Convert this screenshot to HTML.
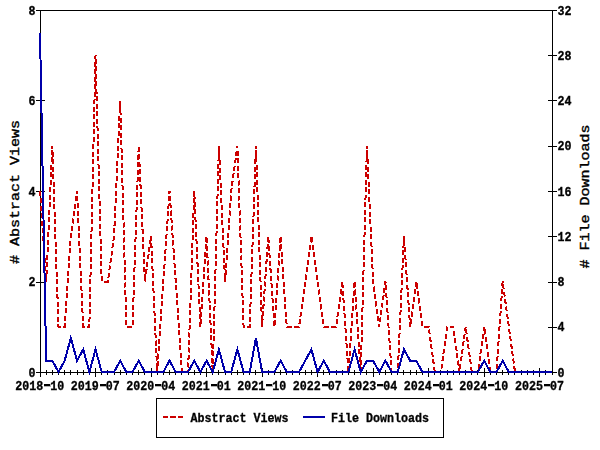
<!DOCTYPE html>
<html><head><meta charset="utf-8"><title>Chart</title>
<style>html,body{margin:0;padding:0;background:#fff;width:600px;height:450px;overflow:hidden;font-family:"Liberation Mono",monospace}</style>
</head><body>
<svg width="600" height="450" viewBox="0 0 600 450" style="position:absolute;left:0;top:0">
<rect x="0" y="0" width="600" height="450" fill="#fff"/>
<g shape-rendering="crispEdges" stroke="#000" stroke-width="1" fill="none">
<rect x="40.5" y="10.5" width="512" height="362"/>
<line x1="40.5" y1="368" x2="40.5" y2="377"/>
<line x1="46.5" y1="370" x2="46.5" y2="375"/>
<line x1="52.5" y1="370" x2="52.5" y2="375"/>
<line x1="58.5" y1="370" x2="58.5" y2="375"/>
<line x1="64.5" y1="370" x2="64.5" y2="375"/>
<line x1="70.5" y1="370" x2="70.5" y2="375"/>
<line x1="77.5" y1="370" x2="77.5" y2="375"/>
<line x1="83.5" y1="370" x2="83.5" y2="375"/>
<line x1="89.5" y1="370" x2="89.5" y2="375"/>
<line x1="95.5" y1="368" x2="95.5" y2="377"/>
<line x1="101.5" y1="370" x2="101.5" y2="375"/>
<line x1="107.5" y1="370" x2="107.5" y2="375"/>
<line x1="114.5" y1="370" x2="114.5" y2="375"/>
<line x1="120.5" y1="370" x2="120.5" y2="375"/>
<line x1="126.5" y1="370" x2="126.5" y2="375"/>
<line x1="132.5" y1="370" x2="132.5" y2="375"/>
<line x1="138.5" y1="370" x2="138.5" y2="375"/>
<line x1="144.5" y1="370" x2="144.5" y2="375"/>
<line x1="151.5" y1="368" x2="151.5" y2="377"/>
<line x1="157.5" y1="370" x2="157.5" y2="375"/>
<line x1="163.5" y1="370" x2="163.5" y2="375"/>
<line x1="169.5" y1="370" x2="169.5" y2="375"/>
<line x1="175.5" y1="370" x2="175.5" y2="375"/>
<line x1="181.5" y1="370" x2="181.5" y2="375"/>
<line x1="188.5" y1="370" x2="188.5" y2="375"/>
<line x1="194.5" y1="370" x2="194.5" y2="375"/>
<line x1="200.5" y1="370" x2="200.5" y2="375"/>
<line x1="206.5" y1="368" x2="206.5" y2="377"/>
<line x1="212.5" y1="370" x2="212.5" y2="375"/>
<line x1="218.5" y1="370" x2="218.5" y2="375"/>
<line x1="225.5" y1="370" x2="225.5" y2="375"/>
<line x1="231.5" y1="370" x2="231.5" y2="375"/>
<line x1="237.5" y1="370" x2="237.5" y2="375"/>
<line x1="243.5" y1="370" x2="243.5" y2="375"/>
<line x1="249.5" y1="370" x2="249.5" y2="375"/>
<line x1="255.5" y1="370" x2="255.5" y2="375"/>
<line x1="262.5" y1="368" x2="262.5" y2="377"/>
<line x1="268.5" y1="370" x2="268.5" y2="375"/>
<line x1="274.5" y1="370" x2="274.5" y2="375"/>
<line x1="280.5" y1="370" x2="280.5" y2="375"/>
<line x1="286.5" y1="370" x2="286.5" y2="375"/>
<line x1="292.5" y1="370" x2="292.5" y2="375"/>
<line x1="299.5" y1="370" x2="299.5" y2="375"/>
<line x1="305.5" y1="370" x2="305.5" y2="375"/>
<line x1="311.5" y1="370" x2="311.5" y2="375"/>
<line x1="317.5" y1="368" x2="317.5" y2="377"/>
<line x1="323.5" y1="370" x2="323.5" y2="375"/>
<line x1="329.5" y1="370" x2="329.5" y2="375"/>
<line x1="336.5" y1="370" x2="336.5" y2="375"/>
<line x1="342.5" y1="370" x2="342.5" y2="375"/>
<line x1="348.5" y1="370" x2="348.5" y2="375"/>
<line x1="354.5" y1="370" x2="354.5" y2="375"/>
<line x1="360.5" y1="370" x2="360.5" y2="375"/>
<line x1="366.5" y1="370" x2="366.5" y2="375"/>
<line x1="373.5" y1="368" x2="373.5" y2="377"/>
<line x1="379.5" y1="370" x2="379.5" y2="375"/>
<line x1="385.5" y1="370" x2="385.5" y2="375"/>
<line x1="391.5" y1="370" x2="391.5" y2="375"/>
<line x1="397.5" y1="370" x2="397.5" y2="375"/>
<line x1="403.5" y1="370" x2="403.5" y2="375"/>
<line x1="410.5" y1="370" x2="410.5" y2="375"/>
<line x1="416.5" y1="370" x2="416.5" y2="375"/>
<line x1="422.5" y1="370" x2="422.5" y2="375"/>
<line x1="428.5" y1="368" x2="428.5" y2="377"/>
<line x1="434.5" y1="370" x2="434.5" y2="375"/>
<line x1="440.5" y1="370" x2="440.5" y2="375"/>
<line x1="447.5" y1="370" x2="447.5" y2="375"/>
<line x1="453.5" y1="370" x2="453.5" y2="375"/>
<line x1="459.5" y1="370" x2="459.5" y2="375"/>
<line x1="465.5" y1="370" x2="465.5" y2="375"/>
<line x1="471.5" y1="370" x2="471.5" y2="375"/>
<line x1="477.5" y1="370" x2="477.5" y2="375"/>
<line x1="484.5" y1="368" x2="484.5" y2="377"/>
<line x1="490.5" y1="370" x2="490.5" y2="375"/>
<line x1="496.5" y1="370" x2="496.5" y2="375"/>
<line x1="502.5" y1="370" x2="502.5" y2="375"/>
<line x1="508.5" y1="370" x2="508.5" y2="375"/>
<line x1="514.5" y1="370" x2="514.5" y2="375"/>
<line x1="521.5" y1="370" x2="521.5" y2="375"/>
<line x1="527.5" y1="370" x2="527.5" y2="375"/>
<line x1="533.5" y1="370" x2="533.5" y2="375"/>
<line x1="539.5" y1="368" x2="539.5" y2="377"/>
<line x1="545.5" y1="370" x2="545.5" y2="375"/>
<line x1="552.5" y1="370" x2="552.5" y2="375"/>
<line x1="36" y1="372.5" x2="45" y2="372.5"/>
<line x1="36" y1="282.5" x2="45" y2="282.5"/>
<line x1="36" y1="191.5" x2="45" y2="191.5"/>
<line x1="36" y1="100.5" x2="45" y2="100.5"/>
<line x1="36" y1="10.5" x2="45" y2="10.5"/>
<line x1="548" y1="372.5" x2="557" y2="372.5"/>
<line x1="548" y1="327.5" x2="557" y2="327.5"/>
<line x1="548" y1="282.5" x2="557" y2="282.5"/>
<line x1="548" y1="236.5" x2="557" y2="236.5"/>
<line x1="548" y1="191.5" x2="557" y2="191.5"/>
<line x1="548" y1="146.5" x2="557" y2="146.5"/>
<line x1="548" y1="100.5" x2="557" y2="100.5"/>
<line x1="548" y1="55.5" x2="557" y2="55.5"/>
<line x1="548" y1="10.5" x2="557" y2="10.5"/>
<rect x="156.5" y="398.5" width="287" height="39"/>
</g>
<polyline points="40.00,191.00 46.17,281.50 52.34,145.75 58.51,326.75 64.67,326.75 70.84,236.25 77.01,191.00 83.18,326.75 89.35,326.75 95.52,55.25 101.69,281.50 107.86,281.50 114.02,236.25 120.19,100.50 126.36,326.75 132.53,326.75 138.70,145.75 144.87,281.50 151.04,236.25 157.20,372.00 163.37,281.50 169.54,191.00 175.71,281.50 181.88,372.00 188.05,372.00 194.22,191.00 200.39,326.75 206.55,236.25 212.72,372.00 218.89,145.75 225.06,281.50 231.23,191.00 237.40,145.75 243.57,326.75 249.73,326.75 255.90,145.75 262.07,326.75 268.24,236.25 274.41,326.75 280.58,236.25 286.75,326.75 292.92,326.75 299.08,326.75 305.25,281.50 311.42,236.25 317.59,281.50 323.76,326.75 329.93,326.75 336.10,326.75 342.27,281.50 348.43,372.00 354.60,281.50 360.77,372.00 366.94,145.75 373.11,281.50 379.28,326.75 385.45,281.50 391.61,372.00 397.78,372.00 403.95,236.25 410.12,326.75 416.29,281.50 422.46,326.75 428.63,326.75 434.80,372.00 440.96,372.00 447.13,326.75 453.30,326.75 459.47,372.00 465.64,326.75 471.81,372.00 477.98,372.00 484.14,326.75 490.31,372.00 496.48,372.00 502.65,281.50 508.82,326.75 514.99,372.00 521.16,372.00 527.33,372.00 533.49,372.00 539.66,372.00 545.83,372.00 552.00,372.00" fill="none" stroke="#cc0000" stroke-width="2" stroke-dasharray="5,2.5" stroke-linejoin="miter" shape-rendering="crispEdges"/>
<polyline points="40.00,32.62 46.17,360.69 52.34,360.69 58.51,372.00 64.67,360.69 70.84,338.06 77.01,360.69 83.18,349.38 89.35,372.00 95.52,349.38 101.69,372.00 107.86,372.00 114.02,372.00 120.19,360.69 126.36,372.00 132.53,372.00 138.70,360.69 144.87,372.00 151.04,372.00 157.20,372.00 163.37,372.00 169.54,360.69 175.71,372.00 181.88,372.00 188.05,372.00 194.22,360.69 200.39,372.00 206.55,360.69 212.72,372.00 218.89,349.38 225.06,372.00 231.23,372.00 237.40,349.38 243.57,372.00 249.73,372.00 255.90,338.06 262.07,372.00 268.24,372.00 274.41,372.00 280.58,360.69 286.75,372.00 292.92,372.00 299.08,372.00 305.25,360.69 311.42,349.38 317.59,372.00 323.76,360.69 329.93,372.00 336.10,372.00 342.27,372.00 348.43,372.00 354.60,349.38 360.77,372.00 366.94,360.69 373.11,360.69 379.28,372.00 385.45,360.69 391.61,372.00 397.78,372.00 403.95,349.38 410.12,360.69 416.29,360.69 422.46,372.00 428.63,372.00 434.80,372.00 440.96,372.00 447.13,372.00 453.30,372.00 459.47,372.00 465.64,372.00 471.81,372.00 477.98,372.00 484.14,360.69 490.31,372.00 496.48,372.00 502.65,360.69 508.82,372.00 514.99,372.00 521.16,372.00 527.33,372.00 533.49,372.00 539.66,372.00 545.83,372.00 552.00,372.00" fill="none" stroke="#0000aa" stroke-width="2" stroke-linejoin="miter" shape-rendering="crispEdges"/>
<line x1="162.5" y1="417" x2="183.5" y2="417" stroke="#cc0000" stroke-width="2" stroke-dasharray="5.5,2" shape-rendering="crispEdges"/>
<line x1="303" y1="417" x2="325" y2="417" stroke="#0000aa" stroke-width="2" shape-rendering="crispEdges"/>
<g font-family="'Liberation Mono', monospace" font-weight="bold" font-size="11.67px" fill="#000" stroke="#000" stroke-width="0.3" opacity="0.999">
<text transform="translate(35.5,376.5) scale(1,1.13)" text-anchor="end">0</text>
<text transform="translate(35.5,286.0) scale(1,1.13)" text-anchor="end">2</text>
<text transform="translate(35.5,195.5) scale(1,1.13)" text-anchor="end">4</text>
<text transform="translate(35.5,105.0) scale(1,1.13)" text-anchor="end">6</text>
<text transform="translate(35.5,14.5) scale(1,1.13)" text-anchor="end">8</text>
<text transform="translate(557.5,376.5) scale(1,1.13)" text-anchor="start">0</text>
<text transform="translate(557.5,331.2) scale(1,1.13)" text-anchor="start">4</text>
<text transform="translate(557.5,286.0) scale(1,1.13)" text-anchor="start">8</text>
<text transform="translate(557.5,240.8) scale(1,1.13)" text-anchor="start">12</text>
<text transform="translate(557.5,195.5) scale(1,1.13)" text-anchor="start">16</text>
<text transform="translate(557.5,150.2) scale(1,1.13)" text-anchor="start">20</text>
<text transform="translate(557.5,105.0) scale(1,1.13)" text-anchor="start">24</text>
<text transform="translate(557.5,59.8) scale(1,1.13)" text-anchor="start">28</text>
<text transform="translate(557.5,14.5) scale(1,1.13)" text-anchor="start">32</text>
<text transform="translate(39.7,389.5) scale(1,1.13)" text-anchor="middle">2018 10</text>
<rect x="44" y="384" width="6" height="2" shape-rendering="crispEdges"/>
<text transform="translate(95.2,389.5) scale(1,1.13)" text-anchor="middle">2019 07</text>
<rect x="100" y="384" width="6" height="2" shape-rendering="crispEdges"/>
<text transform="translate(150.7,389.5) scale(1,1.13)" text-anchor="middle">2020 04</text>
<rect x="155" y="384" width="6" height="2" shape-rendering="crispEdges"/>
<text transform="translate(206.3,389.5) scale(1,1.13)" text-anchor="middle">2021 01</text>
<rect x="211" y="384" width="6" height="2" shape-rendering="crispEdges"/>
<text transform="translate(261.8,389.5) scale(1,1.13)" text-anchor="middle">2021 10</text>
<rect x="266" y="384" width="6" height="2" shape-rendering="crispEdges"/>
<text transform="translate(317.3,389.5) scale(1,1.13)" text-anchor="middle">2022 07</text>
<rect x="322" y="384" width="6" height="2" shape-rendering="crispEdges"/>
<text transform="translate(372.8,389.5) scale(1,1.13)" text-anchor="middle">2023 04</text>
<rect x="377" y="384" width="6" height="2" shape-rendering="crispEdges"/>
<text transform="translate(428.3,389.5) scale(1,1.13)" text-anchor="middle">2024 01</text>
<rect x="433" y="384" width="6" height="2" shape-rendering="crispEdges"/>
<text transform="translate(483.8,389.5) scale(1,1.13)" text-anchor="middle">2024 10</text>
<rect x="488" y="384" width="6" height="2" shape-rendering="crispEdges"/>
<text transform="translate(539.4,389.5) scale(1,1.13)" text-anchor="middle">2025 07</text>
<rect x="544" y="384" width="6" height="2" shape-rendering="crispEdges"/>
<text transform="translate(190.6,422.0) scale(1,1.13)" text-anchor="start">Abstract Views</text>
<text transform="translate(331.0,422.0) scale(1,1.13)" text-anchor="start">File Downloads</text>
</g>
<g font-family="'Liberation Mono', monospace" font-size="13.5px" fill="#000" stroke="#000" stroke-width="0.4">
<text transform="translate(19.3,192) rotate(-90) scale(1.111,1)" text-anchor="middle"># Abstract Views</text>
<text transform="translate(589.2,196.5) rotate(-90) scale(1.111,1)" text-anchor="middle"># File Downloads</text>
</g>
</svg>
</body></html>
